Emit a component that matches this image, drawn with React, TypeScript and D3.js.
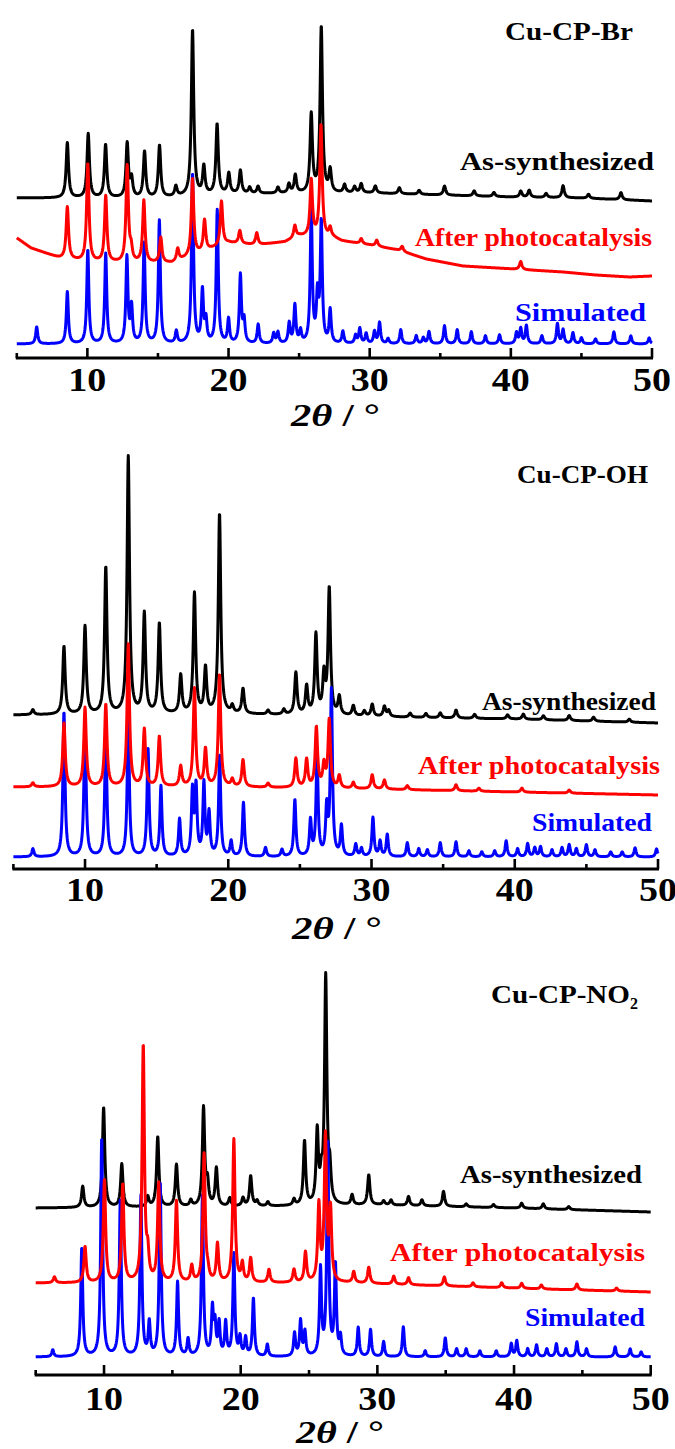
import React from 'react';
import * as d3 from 'd3';

type Pt = [number, number];

// ---------- shared axis data ----------
const tickValues: number[] = [5, 10, 15, 20, 25, 30, 35, 40, 45, 50];
const tickLabels: number[] = [10, 20, 30, 40, 50];
const seriesNames: string[] = ['As-synthesized', 'After photocatalysis', 'Simulated'];
const seriesColors: string[] = ['#000000', '#ff0000', '#0000ff'];

// ---------- Panel 1: Cu-CP-Br (intensity, a.u.) ----------
const brAsBase: Pt[] = [[5, 160], [15, 160], [20, 164], [30, 165], [35, 163], [40, 161], [45, 160], [50, 157]];
const brAsPeaks: Pt[] = [
  [8.58, 55], [10.06, 64], [11.29, 53], [12.82, 54], [13.13, 18], [14.05, 46], [15.11, 52], [16.27, 10],
  [17.45, 166], [18.25, 28], [19.19, 70], [20.02, 20], [20.84, 23], [21.5, 6], [22.09, 7], [23.5, 6],
  [24.28, 9], [24.73, 18], [25.86, 78], [26.57, 166], [27.2, 22], [28.22, 8], [28.93, 6], [29.4, 9],
  [30.4, 7], [32.1, 6], [33.5, 4], [35.3, 9], [37.4, 5], [38.8, 4], [40.7, 6], [41.3, 7], [42.5, 4],
  [43.7, 12], [45.5, 4], [47.8, 7],
];
const brAfterBase: Pt[] = [
  [5, 120], [6, 110], [7, 105], [8, 100], [10, 96], [13, 95], [16, 95], [17, 100], [19, 110], [20, 115],
  [22, 113], [24, 116], [25, 122], [27.5, 120], [28, 117], [30, 113], [32, 108], [34, 99], [36.6, 92],
  [39, 90], [41.3, 88], [43.7, 86], [46, 83], [48.4, 81], [50, 82],
];
const brAfterPeaks: Pt[] = [
  [8.58, 52], [10.03, 98], [11.3, 66], [12.82, 96], [13.1, 12], [14.0, 62], [15.2, 25], [16.4, 12],
  [17.45, 77], [18.3, 31], [19.5, 44], [20.8, 13], [22.0, 12], [24.7, 12], [25.86, 56], [26.55, 112],
  [27.2, 9], [29.4, 5], [30.5, 6], [32.3, 5], [40.7, 8],
];
const brSimBase: Pt[] = [[5, 14], [50, 14]];
const brSimPeaks: Pt[] = [
  [6.41, 17], [8.58, 52], [10.03, 94], [11.3, 90], [12.8, 86], [13.13, 36], [14.02, 100], [15.1, 123],
  [16.3, 12], [17.45, 170], [18.15, 52], [18.4, 22], [19.2, 133], [20.0, 24], [20.84, 68], [21.1, 22],
  [22.1, 19], [23.2, 10], [23.5, 11], [24.3, 20], [24.7, 38], [25.1, 12], [25.86, 132], [26.3, 45],
  [26.57, 120], [27.2, 33], [28.1, 12], [29.0, 8], [29.3, 15], [29.75, 10], [30.34, 12], [30.7, 21],
  [31.3, 5], [32.2, 14], [33.3, 8], [33.8, 6], [34.2, 12], [35.3, 18], [36.2, 14], [37.2, 12], [38.2, 8],
  [39.2, 9], [40.4, 11], [40.7, 15], [41.1, 18], [42.2, 8], [43.3, 20], [43.7, 14], [44.4, 11], [45.0, 6],
  [46.0, 5], [47.3, 12], [48.5, 8], [49.8, 6],
];

// ---------- Panel 2: Cu-CP-OH ----------
const ohAsBase: Pt[] = [[5, 154], [20, 155], [28, 153], [35, 151], [40, 150], [45, 148], [50, 146]];
const ohAsPeaks: Pt[] = [
  [6.36, 5], [8.53, 68], [10.0, 88], [11.45, 147], [13.02, 257], [14.14, 100], [15.19, 90], [16.68, 38],
  [17.64, 120], [18.41, 45], [19.39, 200], [20.28, 7], [21.03, 25], [22.78, 4], [23.88, 5], [24.72, 42],
  [25.47, 28], [26.12, 80], [26.68, 38], [27.05, 126], [27.75, 18], [28.73, 10], [29.5, 5], [30.05, 12],
  [30.9, 10], [31.2, 6], [32.7, 4], [33.8, 4], [34.8, 5], [35.9, 8], [37.2, 4], [39.5, 4], [40.6, 5],
  [42.0, 4], [43.8, 5], [45.5, 4], [48.0, 3],
];
const ohAfterBase: Pt[] = [[5, 82], [20, 82], [30, 80], [40, 77], [50, 74]];
const ohAfterPeaks: Pt[] = [
  [6.36, 4], [8.53, 64], [10.0, 79], [11.45, 82], [13.02, 142], [14.14, 57], [15.19, 50], [16.68, 20],
  [17.64, 98], [18.41, 37], [19.39, 112], [20.28, 7], [21.03, 27], [22.78, 4], [24.72, 29], [25.47, 28],
  [26.15, 60], [26.68, 22], [27.05, 68], [27.75, 12], [28.73, 6], [30.05, 14], [30.9, 9], [32.5, 4],
  [35.9, 6], [37.5, 3], [40.5, 4], [43.8, 3],
];
const ohSimBase: Pt[] = [[5, 12], [50, 12]];
const ohSimPeaks: Pt[] = [
  [6.36, 8], [8.53, 145], [10.0, 140], [11.45, 125], [13.02, 140], [14.4, 107], [15.3, 70], [16.6, 37],
  [17.5, 64], [17.75, 68], [18.3, 72], [18.66, 42], [19.4, 100], [20.2, 15], [21.06, 54], [22.6, 9],
  [23.75, 7], [24.65, 57], [25.74, 35], [26.2, 100], [26.87, 46], [27.2, 165], [27.9, 30], [28.9, 12],
  [29.3, 8], [30.1, 39], [30.6, 15], [31.1, 22], [32.5, 14], [33.3, 8], [33.9, 7], [34.8, 14], [35.9, 15],
  [36.8, 6], [37.7, 5], [38.6, 6], [39.4, 16], [40.2, 8], [40.9, 13], [41.4, 9], [41.8, 10], [42.6, 7],
  [43.3, 9], [43.8, 12], [44.3, 8], [45.0, 12], [45.6, 7], [46.7, 5], [47.5, 5], [48.4, 9], [49.9, 8],
];

// ---------- Panel 3: Cu-CP-NO2 ----------
const no2AsBase: Pt[] = [[5, 167], [25, 169], [30, 170], [40, 167], [50, 163]];
const no2AsPeaks: Pt[] = [
  [8.44, 21], [9.97, 100], [11.3, 43], [13.2, 10], [13.93, 70], [15.3, 42], [16.35, 6], [17.28, 98],
  [17.57, 22], [18.22, 38], [19.2, 8], [20.17, 8], [20.73, 30], [21.2, 5], [21.99, 4], [23.9, 6],
  [24.67, 64], [25.6, 72], [25.9, 22], [26.22, 226], [26.52, 30], [28.15, 10], [29.37, 30], [30.46, 4],
  [31.0, 5], [32.28, 9], [33.26, 6], [34.84, 15], [36.5, 3], [38.5, 3], [40.56, 5], [42.14, 5], [44.0, 3],
];
const no2AfterBase: Pt[] = [[5, 92], [28, 92], [35, 89], [42, 86], [50, 83]];
const no2AfterPeaks: Pt[] = [
  [6.37, 6], [8.61, 36], [10.03, 103], [11.37, 98], [12.87, 236], [13.2, 24], [14.0, 98], [15.3, 81],
  [16.42, 16], [17.32, 128], [17.6, 8], [18.3, 38], [19.5, 143], [20.12, 18], [20.73, 24], [22.07, 13],
  [23.9, 13], [24.74, 30], [25.72, 76], [26.2, 144], [26.57, 70], [28.27, 11], [29.37, 16], [31.2, 8],
  [32.28, 7], [34.9, 9], [37.0, 4], [39.1, 5], [40.56, 5], [42.0, 4], [44.6, 6], [47.5, 3],
];
const no2SimBase: Pt[] = [[5, 18], [50, 18]];
const no2SimPeaks: Pt[] = [
  [6.25, 7], [8.37, 109], [9.83, 219], [11.19, 157], [12.7, 160], [13.31, 33], [14.11, 174], [15.38, 74],
  [16.15, 17], [17.2, 160], [17.93, 46], [18.12, 30], [18.42, 32], [18.9, 33], [19.5, 102], [19.95, 18],
  [20.36, 18], [20.93, 58], [21.95, 12], [23.94, 23], [24.38, 35], [24.7, 24], [25.84, 86], [26.37, 214],
  [26.93, 90], [27.3, 18], [28.6, 29], [29.5, 27], [30.46, 15], [31.9, 30], [33.5, 6], [34.97, 19],
  [35.8, 8], [36.5, 8], [37.5, 6], [38.7, 6], [39.8, 13], [40.2, 16], [41.0, 8], [41.65, 12], [42.4, 8],
  [43.1, 13], [43.8, 8], [44.6, 15], [45.3, 8], [47.4, 10], [48.5, 8], [49.3, 5],
];

// ---------- layout ----------
interface LabelPos { y: number; x0: number; x1: number }
interface PanelCfg {
  title: string; sub?: string;
  x0: number; x1: number; axisY: number;
  series: { base: Pt[]; peaks: Pt[]; fwhm: number }[];
  titlePos: LabelPos;
  labels: LabelPos[];
  tickY: number; xlab: LabelPos;
}

const panels: PanelCfg[] = [
  {
    title: 'Cu-CP-Br', x0: 16.8, x1: 652, axisY: 358,
    series: [
      { base: brAsBase, peaks: brAsPeaks, fwhm: 0.2 },
      { base: brAfterBase, peaks: brAfterPeaks, fwhm: 0.2 },
      { base: brSimBase, peaks: brSimPeaks, fwhm: 0.17 },
    ],
    titlePos: { y: 40, x0: 505, x1: 633 },
    labels: [{ y: 170, x0: 460, x1: 654 }, { y: 246, x0: 415, x1: 652 }, { y: 321, x0: 515, x1: 646 }],
    tickY: 391, xlab: { y: 426, x0: 291, x1: 380 },
  },
  {
    title: 'Cu-CP-OH', x0: 13.4, x1: 658, axisY: 869,
    series: [
      { base: ohAsBase, peaks: ohAsPeaks, fwhm: 0.2 },
      { base: ohAfterBase, peaks: ohAfterPeaks, fwhm: 0.2 },
      { base: ohSimBase, peaks: ohSimPeaks, fwhm: 0.17 },
    ],
    titlePos: { y: 483, x0: 517, x1: 648 },
    labels: [{ y: 710, x0: 482, x1: 656 }, { y: 774, x0: 418, x1: 660 }, { y: 831, x0: 532, x1: 652 }],
    tickY: 901, xlab: { y: 939, x0: 292, x1: 382 },
  },
  {
    title: 'Cu-CP-NO', sub: '2', x0: 35.7, x1: 650.7, axisY: 1375,
    series: [
      { base: no2AsBase, peaks: no2AsPeaks, fwhm: 0.2 },
      { base: no2AfterBase, peaks: no2AfterPeaks, fwhm: 0.2 },
      { base: no2SimBase, peaks: no2SimPeaks, fwhm: 0.17 },
    ],
    titlePos: { y: 1003, x0: 491, x1: 630 },
    labels: [{ y: 1183, x0: 460, x1: 642 }, { y: 1261, x0: 390, x1: 645 }, { y: 1326, x0: 525, x1: 645 }],
    tickY: 1410, xlab: { y: 1443, x0: 296, x1: 384 },
  },
];

const FONT = '"Liberation Serif", "Times New Roman", Times, serif';

function profile(base: Pt[], peaks: Pt[], fwhm: number): Pt[] {
  const baseFn = d3.scaleLinear().domain(base.map((d) => d[0])).range(base.map((d) => d[1])).clamp(true);
  const hw = fwhm / 2;
  const xs = d3.range(5, 50.0001, 0.02);
  return xs.map((t) => {
    let v = baseFn(t);
    for (const [c, h] of peaks) {
      const u = (t - c) / hw;
      v += h / (1 + u * u);
    }
    return [t, v] as Pt;
  });
}

function Panel({ cfg }: { cfg: PanelCfg }) {
  const x = d3.scaleLinear().domain([5, 50]).range([cfg.x0, cfg.x1]);
  const y = d3.scaleLinear().domain([0, 400]).range([cfg.axisY, cfg.axisY - 400]);
  const line = d3.line<Pt>().x((d) => x(d[0])).y((d) => y(d[1]));
  const order = [0, 2, 1];
  return (
    <g>
      {order.map((i) => {
        const s = cfg.series[i];
        return (
          <path key={i} d={line(profile(s.base, s.peaks, s.fwhm)) || ''} fill="none"
            stroke={seriesColors[i]} strokeWidth={3} strokeLinejoin="round" />
        );
      })}
      <line x1={x(5) - 1} x2={x(50) + 1} y1={cfg.axisY} y2={cfg.axisY} stroke="#000" strokeWidth={2.8} />
      {tickValues.map((t) => (
        <line key={t} x1={x(t)} x2={x(t)} y1={cfg.axisY} y2={cfg.axisY - (t % 10 === 0 ? 10 : 5)}
          stroke="#000" strokeWidth={2.6} />
      ))}
      {tickLabels.map((t) => (
        <text key={t} x={x(t) - 19} y={cfg.tickY} fontFamily={FONT} fontWeight="bold"
          fontSize={33} textLength={38} lengthAdjust="spacingAndGlyphs">{t}</text>
      ))}
      <text x={cfg.xlab.x0} y={cfg.xlab.y} fontFamily={FONT} fontWeight="bold" fontSize={32}
        textLength={cfg.xlab.x1 - cfg.xlab.x0} lengthAdjust="spacingAndGlyphs">
        <tspan fontStyle="italic">2θ</tspan><tspan> / °</tspan>
      </text>
      <text x={cfg.titlePos.x0} y={cfg.titlePos.y} fontFamily={FONT} fontWeight="bold" fontSize={26}>
        <tspan textLength={cfg.titlePos.x1 - cfg.titlePos.x0} lengthAdjust="spacingAndGlyphs">{cfg.title}</tspan>
        {cfg.sub ? <tspan fontSize={16} dy={6}>{cfg.sub}</tspan> : null}
      </text>
      {cfg.labels.map((l, i) => (
        <text key={i} x={l.x0} y={l.y} fontFamily={FONT} fontWeight="bold" fontSize={26}
          fill={seriesColors[i]} textLength={l.x1 - l.x0} lengthAdjust="spacingAndGlyphs">
          {seriesNames[i]}
        </text>
      ))}
    </g>
  );
}

export default function App() {
  return (
    <svg width={675} height={1449} viewBox="0 0 675 1449"
      style={{ position: 'absolute', left: 0, top: 0, background: '#fff', display: 'block' }}>
      <rect x={0} y={0} width={675} height={1449} fill="#fff" />
      {panels.map((p, i) => <Panel key={i} cfg={p} />)}
    </svg>
  );
}
